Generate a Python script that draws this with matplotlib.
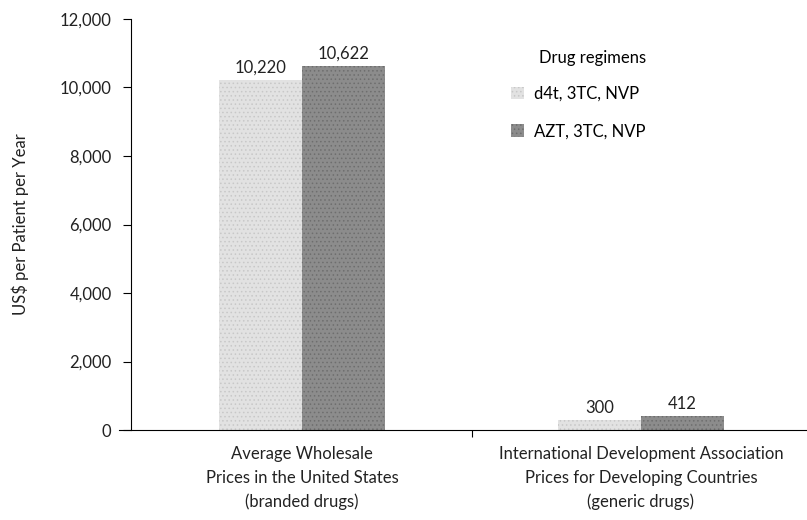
import numpy as np
import matplotlib
matplotlib.use("Agg")
import matplotlib.pyplot as plt

plt.rcParams["font.family"] = ["Lato", "DejaVu Sans"]

categories = [
    "Average Wholesale\nPrices in the United States\n(branded drugs)",
    "International Development Association\nPrices for Developing Countries\n(generic drugs)",
]
regimens = ["d4t, 3TC, NVP", "AZT, 3TC, NVP"]
prices_d4t = [10220, 300]
prices_azt = [10622, 412]
y_ticks = [0, 2000, 4000, 6000, 8000, 10000, 12000]

fill_colors = ["#e2e2e2", "#8c8c8c"]
hatch_colors = ["#c8c8c8", "#6e6e6e"]
fs = 12

fig = plt.figure(figsize=(8.07, 5.2), dpi=100)
ax = fig.add_axes([0.1623, 0.173, 0.8377, 0.7905])

x = np.arange(len(categories))
width = 0.245
plt.rcParams["hatch.linewidth"] = 0.6

for i, (vals, label) in enumerate(zip([prices_d4t, prices_azt], regimens)):
    offset = (i - 0.5) * width
    bars = ax.bar(x + offset, vals, width, color=fill_colors[i],
                  edgecolor=hatch_colors[i], linewidth=0, hatch="....",
                  label=label)
    for b, v in zip(bars, vals):
        ax.text(b.get_x() + b.get_width() / 2, v + 120, f"{v:,}",
                ha="center", va="bottom", fontsize=fs, color="#222222")

ax.set_xlim(-0.505, 1.49)
ax.set_ylim(0, 12000)
ax.set_yticks(y_ticks)
ax.set_yticklabels([f"{t:,}" for t in y_ticks], fontsize=fs, color="#222222")
ax.tick_params(axis="y", direction="out", length=6, width=0.8, pad=8)

ax.set_xticks([0.5])
ax.set_xticklabels([""])
ax.tick_params(axis="x", direction="out", length=5, width=0.8)
for xi, cat in zip(x, categories):
    ax.text(xi, -480, cat, ha="center", va="top", fontsize=fs,
            color="#222222", linespacing=1.55)

for side in ["top", "right"]:
    ax.spines[side].set_visible(False)
ax.spines["left"].set_linewidth(0.8)
ax.spines["bottom"].set_linewidth(0.8)
ax.spines["left"].set_bounds(0, 12000)
ax.spines["bottom"].set_bounds(-0.54, 1.49)

ax.set_ylabel("US$ per Patient per Year", fontsize=fs, color="#222222",
              labelpad=22)

leg = ax.legend(loc="upper left", bbox_to_anchor=(0.54, 0.96), frameon=False,
                title="Drug regimens", fontsize=fs, title_fontsize=fs,
                handlelength=0.8, handleheight=0.8, handletextpad=0.6,
                labelspacing=1.3)
leg._legend_box.align = "right"
leg._legend_box.sep = 14

fig.savefig("out.png", dpi=100)
